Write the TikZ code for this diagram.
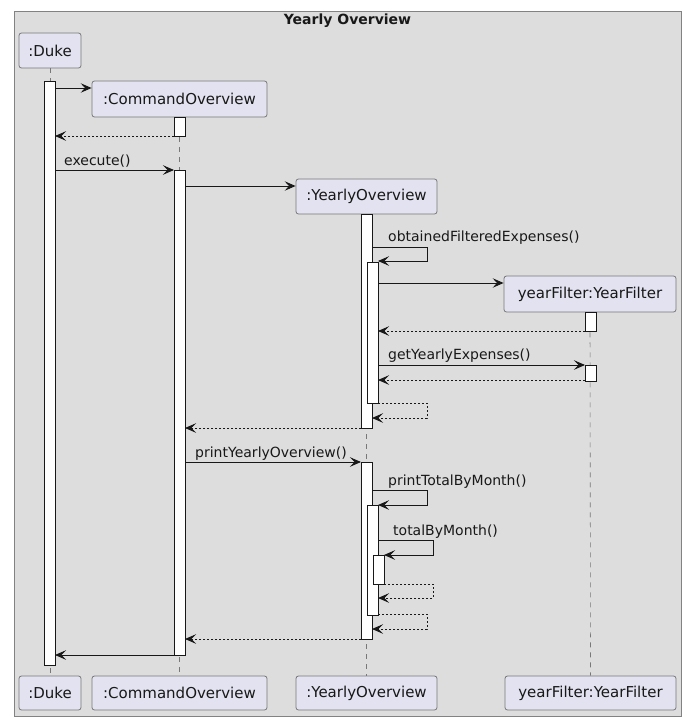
\documentclass[tikz,border=0pt]{standalone}
\usepackage{fontspec}
\setmainfont{DejaVu Sans}
\usetikzlibrary{arrows.meta}
\definecolor{framefill}{RGB}{221,221,221}
\definecolor{frameline}{RGB}{130,130,130}
\definecolor{partfill}{RGB}{226,226,240}
\definecolor{partline}{RGB}{120,120,120}
\definecolor{ink}{RGB}{24,24,24}
\definecolor{lifeline}{RGB}{120,120,120}
\tikzset{
  part/.style={draw=partline, fill=partfill, line width=0.8pt, rounded corners=2.5pt, inner sep=0pt,
    font=\fontsize{15}{18}\selectfont, text=ink},
  actbox/.style={draw=ink, fill=white, line width=0.9pt},
  msg/.style={draw=ink, line width=0.9pt, -{Stealth[length=11pt,width=9.5pt,inset=4.5pt]}},
  ret/.style={msg, dash pattern=on 2pt off 2pt},
  life/.style={draw=lifeline, line width=0.6pt, dash pattern=on 5pt off 5pt},
  lbl/.style={anchor=base west, inner sep=0pt, font=\fontsize{14}{16}\selectfont, text=ink},
}
\begin{document}
\begin{tikzpicture}[x=1pt,y=-1pt]
\useasboundingbox (0,0) rectangle (692,723);
\fill[white] (0,0) rectangle (692,723);
% frame
\draw[frameline, fill=framefill, line width=0.9pt] (14,11) rectangle (681,716);
\node[font=\bfseries\fontsize{14}{16}\selectfont, text=ink] (title) at (347.5,21) {Yearly Overview};

% participants top
\node[part, minimum width=62pt, minimum height=35pt] (dukeT) at (50,50.5) {:Duke};
\node[part, minimum width=175pt, minimum height=36pt] (coT) at (179.5,99) {:CommandOverview};
\node[part, minimum width=141pt, minimum height=35pt] (yoT) at (366.5,196.5) {:YearlyOverview};
\node[part, minimum width=172pt, minimum height=36pt] (yfT) at (590,294) {yearFilter:YearFilter};
% participants bottom
\node[part, minimum width=62pt, minimum height=34pt] (dukeB) at (50,693) {:Duke};
\node[part, minimum width=175pt, minimum height=34pt] (coB) at (179.5,693) {:CommandOverview};
\node[part, minimum width=141pt, minimum height=34pt] (yoB) at (366.5,693) {:YearlyOverview};
\node[part, minimum width=171pt, minimum height=34pt] (yfB) at (590.5,693) {yearFilter:YearFilter};

% lifelines
\draw[life] (dukeT.south) -- (dukeB.north);
\draw[life] (coT.south) -- (coB.north);
\draw[life] (yoT.south) -- (yoB.north);
\draw[life] (yfT.south) -- (yfB.north);

% activations
\draw[actbox] (44,81) rectangle (55,665);
\draw[actbox] (174,117) rectangle (185,136);
\draw[actbox] (174,170) rectangle (185,655);
\draw[actbox] (361,214) rectangle (372,428);
\draw[actbox] (367,262) rectangle (378,403);
\draw[actbox] (585,312) rectangle (596,331);
\draw[actbox] (585,365) rectangle (596,381);
\draw[actbox] (361,462) rectangle (372,639);
\draw[actbox] (367,505) rectangle (378,615);
\draw[actbox] (373,555) rectangle (384,584);

% message end points
\coordinate (m1a) at (55,88);   \coordinate (m1b) at (coT.west |- 0,88);
\coordinate (m2a) at (174,136); \coordinate (m2b) at (55,136);
\coordinate (m3a) at (55,170);  \coordinate (m3b) at (174,170);
\coordinate (m4a) at (185,186); \coordinate (m4b) at (yoT.west |- 0,186);
\coordinate (m5a) at (372,247); \coordinate (m5b) at (427,247); \coordinate (m5c) at (427,261); \coordinate (m5d) at (378,261);
\coordinate (m6a) at (378,283); \coordinate (m6b) at (yfT.west |- 0,283);
\coordinate (m7a) at (585,331); \coordinate (m7b) at (378,331);
\coordinate (m8a) at (378,365); \coordinate (m8b) at (585,365);
\coordinate (m9a) at (585,380); \coordinate (m9b) at (378,380);
\coordinate (m10a) at (378,403); \coordinate (m10b) at (427,403); \coordinate (m10c) at (427,418); \coordinate (m10d) at (372,418);
\coordinate (m11a) at (361,428); \coordinate (m11b) at (185,428);
\coordinate (m12a) at (185,462); \coordinate (m12b) at (361,462);
\coordinate (m13a) at (372,490); \coordinate (m13b) at (427,490); \coordinate (m13c) at (427,505); \coordinate (m13d) at (378,505);
\coordinate (m14a) at (378,540); \coordinate (m14b) at (433,540); \coordinate (m14c) at (433,555); \coordinate (m14d) at (384,555);
\coordinate (m15a) at (384,584); \coordinate (m15b) at (433,584); \coordinate (m15c) at (433,598); \coordinate (m15d) at (378,598);
\coordinate (m16a) at (378,614); \coordinate (m16b) at (427,614); \coordinate (m16c) at (427,629); \coordinate (m16d) at (372,629);
\coordinate (m17a) at (361,639); \coordinate (m17b) at (185,639);
\coordinate (m18a) at (174,655); \coordinate (m18b) at (55,655);

% messages
\draw[msg] (m1a) -- (m1b);
\draw[ret] (m2a) -- (m2b);
\draw[msg] (m3a) -- (m3b);
\node[lbl] (l3) at (64,165) {execute()};
\draw[msg] (m4a) -- (m4b);
\draw[msg] (m5a) -- (m5b) -- (m5c) -- (m5d);
\node[lbl] (l5) at (388,241.5) {obtainedFilteredExpenses()};
\draw[msg] (m6a) -- (m6b);
\draw[ret] (m7a) -- (m7b);
\draw[msg] (m8a) -- (m8b);
\node[lbl] (l8) at (388,359.5) {getYearlyExpenses()};
\draw[ret] (m9a) -- (m9b);
\draw[ret] (m10a) -- (m10b) -- (m10c) -- (m10d);
\draw[ret] (m11a) -- (m11b);
\draw[msg] (m12a) -- (m12b);
\node[lbl] (l12) at (195,457) {printYearlyOverview()};
\draw[msg] (m13a) -- (m13b) -- (m13c) -- (m13d);
\node[lbl] (l13) at (388,485) {printTotalByMonth()};
\draw[msg] (m14a) -- (m14b) -- (m14c) -- (m14d);
\node[lbl] (l14) at (393,535) {totalByMonth()};
\draw[ret] (m15a) -- (m15b) -- (m15c) -- (m15d);
\draw[ret] (m16a) -- (m16b) -- (m16c) -- (m16d);
\draw[ret] (m17a) -- (m17b);
\draw[msg] (m18a) -- (m18b);
\end{tikzpicture}
\end{document}
